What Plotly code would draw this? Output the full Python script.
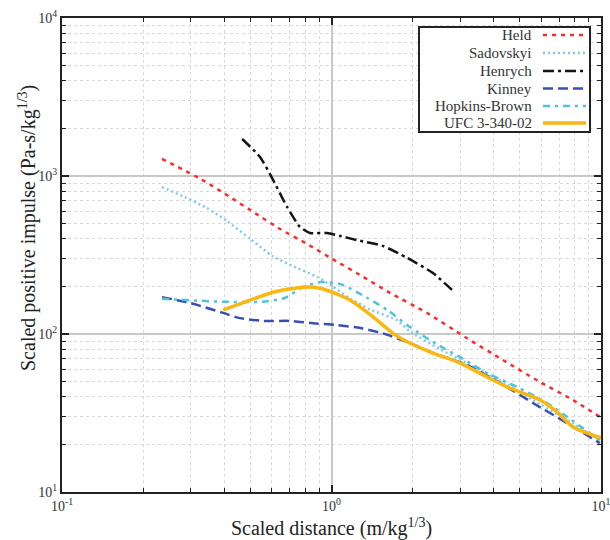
import plotly.graph_objects as go

# ---------------- data ----------------
series_names = ["Held", "Sadovskyi", "Henrych", "Kinney", "Hopkins-Brown", "UFC 3-340-02"]

held_x = [0.235, 0.33, 0.42, 0.52, 0.644, 0.81, 1.01, 1.31, 1.65, 2.26, 3.13, 4.32, 5.94, 7.87, 9.9]
held_y = [1282, 950, 736, 583, 462, 372, 298, 230, 182, 136, 95.7, 68.5, 49.7, 38.2, 29.9]

sad_x = [0.235, 0.281, 0.345, 0.409, 0.499, 0.607, 0.745, 0.883, 1.01, 1.17, 1.39, 1.75, 1.95, 2.53, 3.18, 4.22, 5.59, 7.48, 9.9]
sad_y = [851, 745, 627, 520, 400, 310, 262, 230, 200, 168, 143, 122, 104, 80, 65.5, 51, 38.2, 28.6, 21.3]

hen_x = [0.466, 0.543, 0.607, 0.684, 0.764, 0.832, 0.962, 1.08, 1.24, 1.55, 1.91, 2.38, 2.80]
hen_y = [1714, 1318, 944, 637, 476, 436, 436, 417, 393, 361, 303, 243, 190]

kin_x = [0.235, 0.299, 0.396, 0.457, 0.557, 0.701, 0.853, 1.05, 1.28, 1.55, 1.95, 2.38, 3.18, 4.22, 5.59, 7.48, 9.9]
kin_y = [171, 157, 136, 126, 121, 121, 117, 114, 109, 101, 87.7, 75.8, 63.7, 49.0, 36.6, 27.3, 20.4]

hb_x = [0.235, 0.396, 0.557, 0.671, 0.783, 0.906, 1.08, 1.36, 1.61, 1.95, 2.38, 3.00, 3.78, 4.88, 6.31, 7.48, 9.9]
hb_y = [167, 160, 160, 169, 198, 213, 207, 169, 142, 111, 89, 71.4, 56.6, 46.2, 36.6, 29.9, 21.3]

ufc_x = [0.396, 0.499, 0.617, 0.783, 0.906, 1.05, 1.17, 1.43, 1.69, 1.95, 2.38, 3.00, 3.65, 4.48, 5.94, 6.87, 7.87, 10.0]
ufc_y = [142, 164, 185, 198, 195, 179, 164, 128, 101, 87.7, 75.8, 65.5, 55.1, 46.2, 38.2, 32.1, 25.8, 22]

x_tick_vals = [0.1, 1, 10]
x_tick_text = ["10<sup>-1</sup>", "10<sup>0</sup>", "10<sup>1</sup>"]
y_tick_vals = [10, 100, 1000, 10000]
y_tick_text = ["10<sup>1</sup>", "10<sup>2</sup>", "10<sup>3</sup>", "10<sup>4</sup>"]

x_title = "Scaled distance (m/kg<sup>1/3</sup>)"
y_title = "Scaled positive impulse (Pa-s/kg<sup>1/3</sup>)"

# ---------------- styles ----------------
colors = ["#ff2b2b", "#7fcbef", "#151515", "#3a4fb3", "#4cc4dc", "#f9b811"]
dashes = ["4px,5px", "2px,3px", "11px,4px,3px,4px", "10px,5px", "7px,5px,3px,5px", "solid"]
widths = [2.5, 2.5, 2.5, 2.5, 2.5, 3.5]

xs = [held_x, sad_x, hen_x, kin_x, hb_x, ufc_x]
ys = [held_y, sad_y, hen_y, kin_y, hb_y, ufc_y]

W, H = 610, 540
ML, MR, MT, MB = 62, 9, 18, 48
PW, PH = W - ML - MR, H - MT - MB

def px(x):
    return (x - ML) / PW

def py(y):
    return (H - MB - y) / PH

fig = go.Figure()
for name, x, y, c, d, w in zip(series_names, xs, ys, colors, dashes, widths):
    fig.add_trace(go.Scatter(x=x, y=y, mode="lines", name=name,
                             line=dict(color=c, dash=d, width=w, shape="spline", smoothing=0.6),
                             showlegend=False))

minor_x = [v * m for v in (0.1, 1) for m in range(2, 10)]
minor_y = [v * m for v in (10, 100, 1000) for m in range(2, 10)]

font_family = "Liberation Serif, Times New Roman, serif"

axis_common = dict(
    type="log", showline=True, linecolor="#222", linewidth=2, mirror="ticks",
    ticks="inside", ticklen=7, tickwidth=1.5, tickcolor="#222",
    showgrid=True, gridcolor="#c8c8c8", gridwidth=1.6, zeroline=False,
    tickfont=dict(family=font_family, size=14, color="#333"),
    automargin=False, ticklabeloverflow="allow",
)

fig.update_xaxes(range=[-1, 1], tickmode="array", tickvals=x_tick_vals, ticktext=x_tick_text,
                 minor=dict(tickmode="array", tickvals=minor_x, ticks="inside", ticklen=4,
                            tickcolor="#222", tickwidth=1.2, showgrid=True,
                            gridcolor="#d9d9d9", griddash="dot", gridwidth=1),
                 title=dict(text=x_title, font=dict(family=font_family, size=20, color="#222"), standoff=10),
                 **axis_common)
fig.update_yaxes(range=[1, 4], tickmode="array", tickvals=y_tick_vals, ticktext=y_tick_text,
                 minor=dict(tickmode="array", tickvals=minor_y, ticks="inside", ticklen=4,
                            tickcolor="#222", tickwidth=1.2, showgrid=True,
                            gridcolor="#d9d9d9", griddash="dot", gridwidth=1),
                 **axis_common)

# ---------------- manual legend (symbols on the right, like the reference) ----------------
shapes = [dict(type="rect", xref="paper", yref="paper",
               x0=px(419), x1=px(590), y0=py(132), y1=py(27),
               line=dict(color="#222", width=2), fillcolor="white", layer="above")]
annotations = [dict(xref="paper", yref="paper", x=px(27), y=py(228), xanchor="center",
                    yanchor="middle", text=y_title, textangle=-90, showarrow=False,
                    font=dict(family=font_family, size=20, color="#222"))]
row_y = [35, 53, 71, 88.5, 106, 123]
for name, c, d, w, ry in zip(series_names, colors, dashes, widths, row_y):
    annotations.append(dict(xref="paper", yref="paper", x=px(534), y=py(ry), xanchor="right",
                            yanchor="middle", text=name, showarrow=False,
                            font=dict(family=font_family, size=15, color="#333")))
    shapes.append(dict(type="line", xref="paper", yref="paper", x0=px(543), x1=px(586),
                       y0=py(ry), y1=py(ry), line=dict(color=c, dash=d, width=w), layer="above"))

fig.update_layout(
    width=W, height=H, margin=dict(l=ML, r=MR, t=MT, b=MB, autoexpand=False),
    paper_bgcolor="white", plot_bgcolor="white",
    shapes=shapes, annotations=annotations, showlegend=False,
)

fig.write_html("out.html")
